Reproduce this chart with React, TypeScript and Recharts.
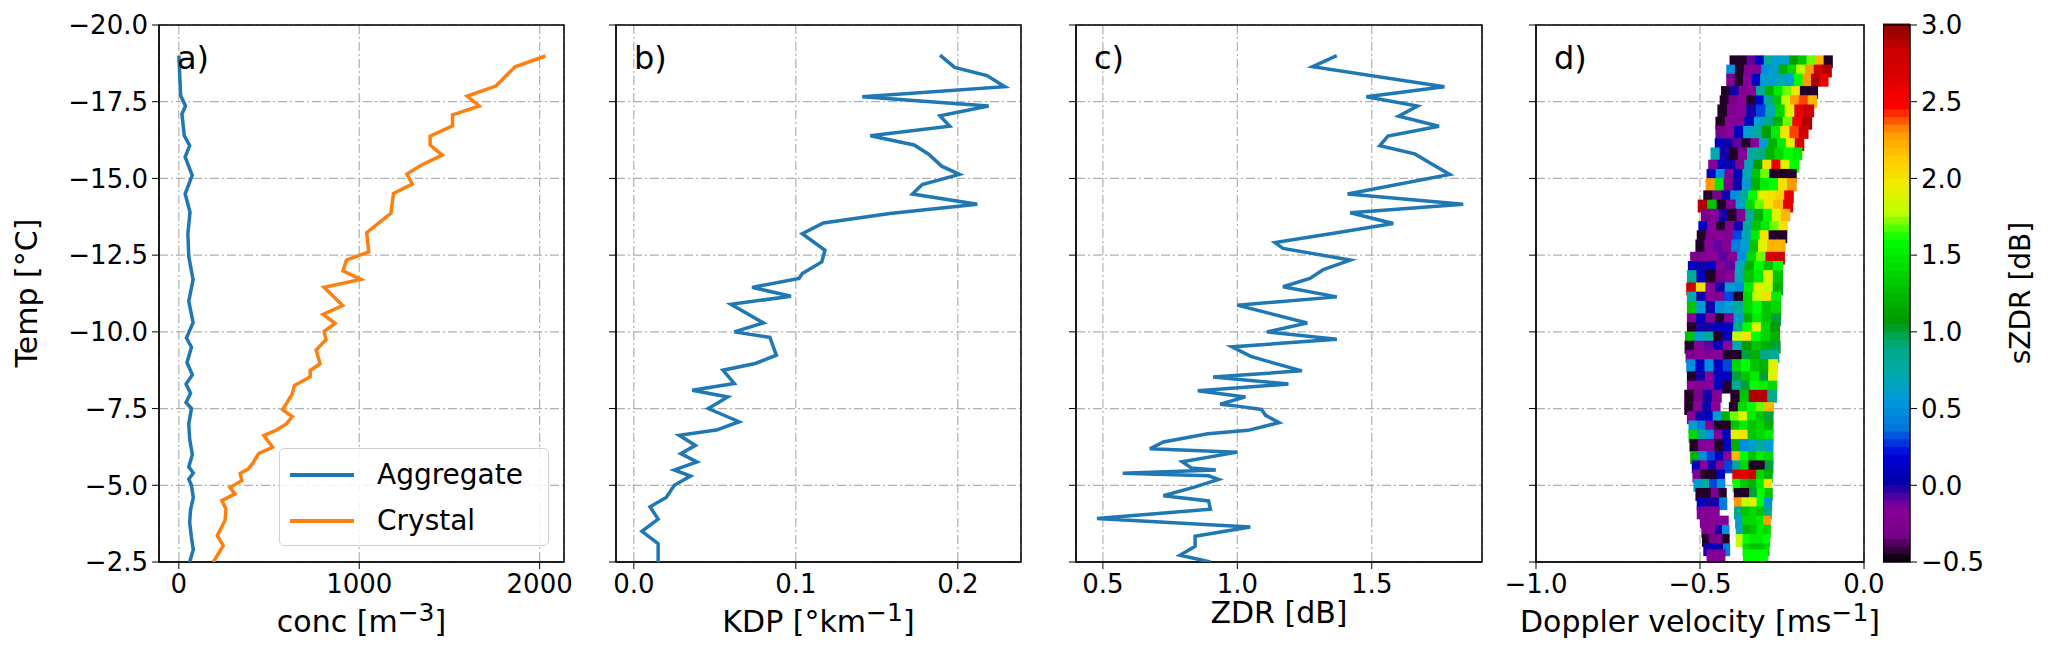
import React from "react";
import { ScatterChart, Scatter, XAxis, YAxis, CartesianGrid, ReferenceArea } from "recharts";

// [temperature, value] pairs
const aggregate = [
  [-19.0, 0], [-17.7, 10], [-17.36, 37], [-17.1, 17], [-16.4, 30], [-16.07, 60], [-15.7, 35],
  [-15.1, 74], [-14.5, 35], [-13.9, 62], [-13.2, 50], [-12.45, 55], [-11.7, 79], [-11.0, 55],
  [-10.3, 79], [-9.8, 42], [-9.5, 70], [-9.0, 45], [-8.6, 75], [-8.3, 40], [-8.0, 65], [-7.7, 40],
  [-7.5, 70], [-7.0, 55], [-6.5, 60], [-6.0, 75], [-5.6, 55], [-5.4, 80], [-5.2, 55], [-5.0, 70],
  [-4.6, 80], [-4.2, 65], [-3.8, 60], [-3.3, 70], [-2.9, 80], [-2.5, 60],
];
const crystal = [
  [-18.99, 2032], [-18.64, 1864], [-18.01, 1757], [-17.68, 1598], [-17.36, 1665], [-17.07, 1517],
  [-16.71, 1517], [-16.38, 1393], [-16.09, 1393], [-15.76, 1460], [-15.43, 1343], [-15.14, 1264],
  [-14.82, 1294], [-14.51, 1190], [-13.86, 1175], [-13.23, 1041], [-12.61, 1053], [-12.34, 929],
  [-11.99, 910], [-11.71, 1009], [-11.45, 805], [-10.86, 908], [-10.57, 800], [-10.28, 866],
  [-10.01, 805], [-9.74, 816], [-9.41, 761], [-8.96, 783], [-8.74, 728], [-8.54, 728], [-8.25, 640],
  [-7.98, 629], [-7.46, 575], [-7.24, 629], [-7.0, 596], [-6.8, 542], [-6.62, 471], [-6.24, 520],
  [-6.04, 443], [-5.72, 410], [-5.53, 384], [-5.39, 340], [-5.15, 349], [-4.93, 283], [-4.72, 311],
  [-4.5, 239], [-4.23, 261], [-3.87, 257], [-3.36, 213], [-3.03, 246], [-2.5, 191],
];
const kdp = [
  [-19.02, 0.189], [-18.62, 0.198], [-18.35, 0.218], [-17.99, 0.229], [-17.66, 0.141], [-17.36, 0.219],
  [-17.04, 0.189], [-16.7, 0.195], [-16.39, 0.146], [-16.09, 0.173], [-15.79, 0.182], [-15.4, 0.19],
  [-15.13, 0.201], [-14.8, 0.178], [-14.49, 0.172], [-14.16, 0.212], [-13.86, 0.158], [-13.55, 0.117],
  [-13.2, 0.104], [-12.66, 0.118], [-12.28, 0.116], [-11.9, 0.104], [-11.74, 0.102], [-11.45, 0.073],
  [-11.16, 0.097], [-10.9, 0.06], [-10.29, 0.08], [-10.0, 0.062], [-9.82, 0.084], [-9.24, 0.088],
  [-8.97, 0.075], [-8.75, 0.055], [-8.32, 0.062], [-8.1, 0.036], [-7.88, 0.058], [-7.5, 0.046],
  [-7.07, 0.065], [-6.8, 0.051], [-6.63, 0.028], [-6.3, 0.038], [-6.03, 0.029], [-5.76, 0.039],
  [-5.5, 0.025], [-5.3, 0.035], [-5.0, 0.025], [-4.6, 0.02], [-4.3, 0.01], [-3.9, 0.015],
  [-3.5, 0.005], [-3.1, 0.015], [-2.5, 0.015],
];
const zdr = [
  [-19.0, 1.37], [-18.64, 1.28], [-17.99, 1.77], [-17.66, 1.48], [-17.36, 1.67], [-17.03, 1.6],
  [-16.7, 1.75], [-16.38, 1.56], [-16.07, 1.53], [-15.8, 1.66], [-15.49, 1.72], [-15.13, 1.79],
  [-14.49, 1.41], [-14.16, 1.84], [-13.88, 1.42], [-13.53, 1.58], [-13.23, 1.37], [-12.91, 1.14],
  [-12.72, 1.17], [-12.34, 1.42], [-12.03, 1.32], [-11.74, 1.27], [-11.47, 1.17], [-11.14, 1.37],
  [-10.87, 1.0], [-10.29, 1.26], [-10.0, 1.11], [-9.76, 1.37], [-9.51, 0.98], [-9.2, 1.05],
  [-9.02, 1.12], [-8.73, 1.24], [-8.53, 0.91], [-8.3, 1.19], [-8.08, 0.853], [-7.88, 1.03],
  [-7.64, 0.936], [-7.58, 1.0], [-7.47, 1.09], [-7.28, 1.105], [-7.04, 1.155], [-6.79, 1.04],
  [-6.68, 0.89], [-6.41, 0.725], [-6.19, 0.675], [-6.08, 1.0], [-5.77, 0.795], [-5.56, 0.83],
  [-5.5, 0.92], [-5.39, 0.574], [-5.31, 0.893], [-5.19, 0.93], [-4.95, 0.843], [-4.66, 0.725],
  [-4.49, 0.893], [-4.22, 0.9], [-3.92, 0.478], [-3.64, 1.048], [-3.34, 0.843], [-3.01, 0.843],
  [-2.72, 0.787], [-2.5, 0.9],
];

// Doppler rows: [temperature, left velocity, right velocity]
const dopRows = [
  [-18.8, -0.41, -0.097], [-18.5, -0.42, -0.1], [-18.2, -0.42, -0.11], [-17.8, -0.436, -0.142],
  [-17.5, -0.44, -0.145], [-17.2, -0.447, -0.154], [-16.8, -0.453, -0.16], [-16.5, -0.453, -0.171],
  [-16.1, -0.455, -0.184], [-15.8, -0.468, -0.19], [-15.4, -0.475, -0.2], [-15.1, -0.48, -0.207],
  [-14.8, -0.483, -0.207], [-14.4, -0.49, -0.216], [-14.1, -0.507, -0.218], [-13.8, -0.497, -0.227],
  [-13.4, -0.505, -0.234], [-13.1, -0.51, -0.236], [-12.8, -0.514, -0.241], [-12.4, -0.53, -0.243],
  [-12.1, -0.537, -0.249], [-11.8, -0.54, -0.249], [-11.4, -0.542, -0.249], [-11.1, -0.54, -0.255],
  [-10.8, -0.54, -0.255], [-10.4, -0.54, -0.255], [-10.1, -0.54, -0.258], [-9.8, -0.546, -0.258],
  [-9.5, -0.547, -0.256], [-9.2, -0.544, -0.26], [-8.9, -0.542, -0.264], [-8.5, -0.54, -0.265],
  [-8.2, -0.54, -0.267], [-7.9, -0.548, -0.267], [-7.5, -0.548, -0.276], [-7.2, -0.54, -0.278],
  [-6.9, -0.535, -0.278], [-6.6, -0.535, -0.278], [-6.3, -0.532, -0.278], [-5.9, -0.53, -0.278],
  [-5.6, -0.525, -0.278], [-5.3, -0.523, -0.28], [-5.0, -0.52, -0.282], [-4.7, -0.514, -0.28],
  [-4.4, -0.51, -0.282], [-4.1, -0.51, -0.283], [-3.8, -0.5, -0.286], [-3.5, -0.496, -0.286],
  [-3.2, -0.494, -0.288], [-2.9, -0.49, -0.29], [-2.7, -0.48, -0.295],
];
// sZDR cells of each row, left to right (null = empty)
const dopSzdr: (number | null)[][] = [
  [-0.45, -0.45, -0.1, 0.1, 0.8, 0.6, 0.6, 1.1, 1.3, 1.7, 2.2, -0.45],
  [0.5, -0.45, -0.2, -0.2, 0.5, 0.6, 1.2, 1.4, 1.8, 2.3, 2.8, 2.9],
  [-0.2, -0.45, -0.15, 0.1, 0.6, 0.6, 0.7, 0.6, 1.6, 2.3, 2.9, 2.6],
  [-0.45, 0.0, -0.2, -0.15, 0.8, 1.2, 1.5, 1.7, 2.0, -0.45, -0.45],
  [-0.45, -0.3, -0.15, -0.45, 0.2, 0.8, 1.3, 1.8, 2.3, 2.4, 2.2],
  [-0.45, -0.2, -0.15, 0.0, 0.3, 0.7, 1.4, 1.9, 2.6, 2.8],
  [-0.45, -0.15, -0.2, 0.1, 0.6, 0.9, 1.2, 1.7, 2.5, 2.9],
  [-0.3, -0.15, 0.1, 0.6, 0.8, 1.1, 1.5, 2.0, 2.4, 2.8],
  [0.1, 0.0, -0.1, -0.45, -0.15, 0.6, 1.2, 1.5, 1.9, 2.7],
  [0.7, 0.0, -0.45, -0.2, 0.8, 0.9, 1.2, 1.4, 1.6, 1.5],
  [-0.15, 0.1, 0.0, -0.2, 0.7, 1.1, 2.0, 2.6, 1.9, 1.6],
  [0.1, 0.5, -0.2, 0.1, 0.7, 1.3, 1.7, -0.45, -0.45, -0.45],
  [2.3, 1.5, -0.2, 0.0, 0.6, 1.2, 1.5, 1.6, 2.0, 2.3],
  [-0.45, -0.3, 0.0, 0.5, 0.8, 1.6, 1.9, 2.0, 2.1, 2.6],
  [2.9, 1.3, -0.45, -0.2, 0.6, 1.4, 1.7, 2.0, 2.2, 2.6],
  [-0.3, -0.15, 0.0, -0.45, -0.2, 0.8, 1.2, 1.6, 1.9, 2.2],
  [0.1, -0.15, -0.45, -0.2, 0.0, 0.8, 1.3, 1.5, 1.7, 2.0],
  [-0.45, -0.2, -0.15, -0.2, 0.3, 0.7, 1.5, 2.0, -0.45, -0.45],
  [-0.45, -0.15, -0.1, -0.2, 0.4, 0.6, 1.3, 1.9, 2.2, 2.2],
  [-0.3, -0.2, -0.15, -0.1, -0.2, 0.5, 1.4, 1.7, 2.7, 2.8],
  [0.1, 0.0, 0.1, -0.2, -0.1, 0.7, 1.2, 1.6, 1.3, 1.6],
  [0.8, 0.1, -0.45, -0.3, -0.15, 0.7, 1.3, 1.5, 1.9, 1.3],
  [2.8, 2.0, -0.15, 0.0, 0.6, 0.5, 1.5, 1.9, 1.8, 1.2],
  [0.7, 0.0, -0.15, -0.2, 0.3, -0.45, 1.4, 1.8, 2.0, 1.5],
  [1.3, 0.6, 0.0, 0.5, 0.6, 0.8, 1.4, 1.6, 1.3, 1.4],
  [-0.15, 0.1, -0.2, -0.45, -0.15, 0.6, 1.2, 1.5, 1.3, 1.0],
  [-0.45, 0.0, 0.0, 0.1, 0.1, 0.9, 1.6, 1.9, 1.4, 1.1],
  [1.3, 0.6, 0.8, -0.45, 0.1, 1.8, 2.0, 1.6, 1.4, 1.2],
  [-0.45, -0.15, -0.1, 0.1, -0.15, 0.7, 1.1, 1.3, 1.2, 1.0],
  [-0.3, -0.15, -0.2, -0.15, -0.45, -0.45, 1.0, 1.2, 0.9, 0.8],
  [0.5, 0.1, 0.5, 0.1, 0.3, 1.4, 1.6, 1.3, 1.2, 1.9],
  [-0.45, 0.0, -0.15, 0.1, 0.1, 1.0, 1.3, 1.5, 1.0, 1.9],
  [-0.15, -0.2, -0.15, 0.1, -0.45, 0.8, 1.0, 1.6, 1.5, 1.4],
  [-0.45, -0.3, 0.0, -0.2, null, -0.45, 1.3, 2.9, 2.9, 0.9],
  [-0.45, -0.15, 0.0, -0.15, null, -0.45, 1.4, 1.6, 1.7, 2.2],
  [-0.15, 0.0, 0.1, 0.6, 1.2, 1.7, 1.9, 1.5, 1.3, 1.0],
  [0.6, 0.4, -0.15, -0.45, -0.45, 1.3, 1.5, 1.3, 1.4, 1.2],
  [1.4, 0.8, 0.5, -0.15, 0.1, 1.9, 2.0, 1.3, 1.4, 1.5],
  [-0.45, -0.2, -0.15, -0.45, 0.1, 1.2, 0.5, 0.6, 0.8, 0.6],
  [1.2, 0.5, 0.3, 0.1, -0.2, 2.2, 1.6, 1.3, 1.5, 1.4],
  [0.1, -0.15, 0.0, -0.2, 0.3, 0.8, 1.4, -0.45, -0.45, 1.0],
  [-0.2, -0.45, -0.45, 0.1, null, 2.7, 2.6, 2.8, 1.4, 1.2],
  [0.6, 0.8, 0.3, 0.5, null, 1.6, 1.3, 1.2, 1.5, 2.0],
  [-0.45, -0.45, -0.2, -0.45, null, -0.45, -0.45, 1.0, 1.6, 1.3],
  [0.1, 0.0, 0.0, 0.4, null, 2.3, 1.8, 1.9, 1.6, 0.5],
  [-0.2, -0.2, -0.15, null, null, 0.9, 1.3, 1.4, 1.3, 0.9],
  [-0.2, -0.15, -0.15, -0.2, null, 0.6, 1.4, 1.4, 1.5, 2.3],
  [-0.2, -0.15, 0.0, 0.5, null, 0.7, 1.2, 1.3, 1.5, 1.4],
  [-0.45, -0.3, -0.2, -0.45, null, 1.8, 1.6, 1.5, 1.5, 1.6],
  [0.0, 0.1, 0.0, 0.4, null, null, 1.4, 1.3, 1.3, 1.4],
  [-0.15, -0.2, -0.15, null, null, null, 1.6, 1.6, 1.6, 1.6],
];

const tempTicks = [-20, -17.5, -15, -12.5, -10, -7.5, -5, -2.5];
const concTicks = [0, 1000, 2000];
const kdpTicks = [0, 0.1, 0.2];
const zdrTicks = [0.5, 1.0, 1.5];
const velTicks = [-1, -0.5, 0];
const cbarTicks = [-0.5, 0, 0.5, 1, 1.5, 2, 2.5, 3];

// nipy_spectral-like colour stops
const stops = [
  [0, 0, 0, 0], [0.05, 0.467, 0, 0.533], [0.1, 0.533, 0, 0.6], [0.15, 0, 0, 0.667],
  [0.2, 0, 0, 0.867], [0.25, 0, 0.467, 0.867], [0.3, 0, 0.6, 0.867], [0.35, 0, 0.667, 0.667],
  [0.4, 0, 0.667, 0.533], [0.45, 0, 0.6, 0], [0.5, 0, 0.733, 0], [0.55, 0, 0.867, 0],
  [0.6, 0, 1, 0], [0.65, 0.733, 1, 0], [0.7, 0.933, 0.933, 0], [0.75, 1, 0.8, 0],
  [0.8, 1, 0.6, 0], [0.85, 1, 0, 0], [0.9, 0.867, 0, 0], [0.95, 0.8, 0, 0], [1, 0.55, 0, 0],
];
function cmap(v: number) {
  const f = Math.min(1, Math.max(0, (v + 0.5) / 3.5));
  let i = 0;
  while (i < stops.length - 2 && f > stops[i + 1][0]) i++;
  const a = stops[i], b = stops[i + 1];
  const w = (f - a[0]) / (b[0] - a[0]);
  const c = [1, 2, 3].map((k) => Math.round(255 * (a[k] + (b[k] - a[k]) * w)));
  return `rgb(${c[0]},${c[1]},${c[2]})`;
}

const FONT = "'DejaVu Sans', sans-serif";
const minus = (s: string) => s.replace("-", "\u2212");
const TOP = 25;
const YW = 100;
const RM = 40;

const toPts = (arr: number[][]) => arr.map(([t, v]) => ({ t, v }));

function Panel({ left, width, domain, ticks, fmt, showY, children }: any) {
  return (
    <div style={{ position: "absolute", left: left - YW, top: 0 }}>
      <ScatterChart width={YW + width + RM} height={667} margin={{ top: TOP, right: RM, bottom: 5, left: 0 }}>
        <CartesianGrid stroke="#b0b0b0" strokeDasharray="9 3 2 3" strokeWidth={1.2} />
        <XAxis type="number" dataKey="v" domain={domain} ticks={ticks} allowDataOverflow height={100}
          tickFormatter={fmt} tickSize={7} tickMargin={6} interval={0}
          stroke="#000" tick={{ fill: "#000", fontSize: 26, fontFamily: FONT }} />
        <YAxis type="number" dataKey="t" domain={[-20, -2.5]} ticks={tempTicks} reversed allowDataOverflow
          width={YW} tickSize={7} tickMargin={4} interval={0} stroke="#000"
          tickFormatter={(v: number) => (showY ? minus(v.toFixed(1)) : "")}
          tick={{ fill: "#000", fontSize: 26, fontFamily: FONT }} />
        {children}
        <ReferenceArea x1={domain[0]} x2={domain[1]} y1={-20} y2={-2.5} fill="none" stroke="#000" strokeWidth={1.5} ifOverflow="visible" />
      </ScatterChart>
    </div>
  );
}

const lineScatter = (data: any[], color: string, key: string) => (
  <Scatter key={key} data={data} fill={color} line={{ stroke: color, strokeWidth: 3.5 }}
    lineJointType="linear" shape={() => <g />} isAnimationActive={false} />
);

const txt: React.CSSProperties = { position: "absolute", fontFamily: FONT, color: "#000", whiteSpace: "nowrap" };

const panels = [
  { left: 159, width: 405, label: "a)", xl: <>conc [m<sup>−3</sup>]</> },
  { left: 616, width: 405, label: "b)", xl: <>KDP [°km<sup>−1</sup>]</> },
  { left: 1076, width: 406, label: "c)", xl: <>ZDR [dB]</> },
  { left: 1536, width: 328, label: "d)", xl: <>Doppler velocity [ms<sup>−1</sup>]</> },
];

export default function App() {
  const cells: any[] = [];
  dopRows.forEach(([t, l, r], i) => {
    const vals = dopSzdr[i];
    const w = (r - l) / vals.length;
    vals.forEach((s, j) => {
      if (s === null) return;
      cells.push(
        <ReferenceArea key={`c${i}-${j}`} x1={l + j * w} x2={l + (j + 1) * w + 0.002} y1={t - 0.21} y2={t + 0.21}
          fill={cmap(s)} fillOpacity={1} stroke="none" ifOverflow="visible" />
      );
    });
  });
  const slices: any[] = [];
  for (let k = 0; k < 70; k++) {
    const y1 = -0.5 + (3.5 * k) / 70;
    const y2 = -0.5 + (3.5 * (k + 1)) / 70;
    slices.push(<ReferenceArea key={`s${k}`} x1={0} x2={1} y1={y1} y2={y2 + 0.01} fill={cmap((y1 + y2) / 2)} fillOpacity={1} stroke="none" ifOverflow="visible" />);
  }

  return (
    <div style={{ position: "absolute", left: 0, top: 0, width: 2048, height: 667, background: "#fff", overflow: "hidden" }}>
      <Panel left={159} width={405} domain={[-110, 2135]} ticks={concTicks} fmt={(v: number) => String(v)} showY>
        {lineScatter(toPts(aggregate), "#1f77b4", "agg")}
        {lineScatter(toPts(crystal), "#ff7f0e", "cry")}
      </Panel>
      <Panel left={616} width={405} domain={[-0.011, 0.239]} ticks={kdpTicks} fmt={(v: number) => v.toFixed(1)}>
        {lineScatter(toPts(kdp), "#1f77b4", "kdp")}
      </Panel>
      <Panel left={1076} width={406} domain={[0.4, 1.91]} ticks={zdrTicks} fmt={(v: number) => v.toFixed(1)}>
        {lineScatter(toPts(zdr), "#1f77b4", "zdr")}
      </Panel>
      <Panel left={1536} width={328} domain={[-1, 0]} ticks={velTicks} fmt={(v: number) => minus(v.toFixed(1))}>
        <Scatter data={dopRows.map(([t, l]) => ({ t, v: l }))} shape={() => <g />} isAnimationActive={false} />
        {cells}
      </Panel>

      <div style={{ position: "absolute", left: 1883, top: 0 }}>
        <ScatterChart width={160} height={667} margin={{ top: TOP, right: 0, bottom: 105, left: 0 }}>
          <XAxis type="number" dataKey="v" domain={[0, 1]} hide />
          <YAxis type="number" dataKey="t" orientation="right" domain={[-0.5, 3]} ticks={cbarTicks} interval={0}
            width={133} tickSize={7} tickMargin={4} stroke="#000" axisLine={false}
            tickFormatter={(v: number) => minus(v.toFixed(1))}
            tick={{ fill: "#000", fontSize: 26, fontFamily: FONT }} />
          <Scatter data={[{ v: 0.5, t: 1 }]} shape={() => <g />} isAnimationActive={false} />
          {slices}
          <ReferenceArea x1={0} x2={1} y1={-0.5} y2={3} fill="none" stroke="#000" strokeWidth={1.5} ifOverflow="visible" />
        </ScatterChart>
      </div>

      {panels.map((p) => (
        <React.Fragment key={p.label}>
          <div style={{ ...txt, left: p.left + 18, top: 38, fontSize: 32, lineHeight: "40px" }}>{p.label}</div>
          <div style={{ ...txt, left: p.left + p.width / 2, top: 595, fontSize: 30, lineHeight: "36px", transform: "translateX(-50%)" }}>
            {p.xl}
          </div>
        </React.Fragment>
      ))}

      <div style={{ ...txt, left: 26, top: 293, fontSize: 30, transform: "translate(-50%,-50%) rotate(-90deg)" }}>Temp [°C]</div>
      <div style={{ ...txt, left: 2020, top: 293, fontSize: 28, transform: "translate(-50%,-50%) rotate(-90deg)" }}>sZDR [dB]</div>

      <div style={{ position: "absolute", left: 279, top: 448, width: 270, height: 98, border: "1.5px solid #d0d0d0", borderRadius: 5, background: "rgba(255,255,255,0.85)", boxSizing: "border-box" }}>
        {[["Aggregate", "#1f77b4"], ["Crystal", "#ff7f0e"]].map(([name, c], i) => (
          <div key={name} style={{ position: "absolute", left: 0, top: 8 + i * 46, height: 36, width: 260 }}>
            <div style={{ position: "absolute", left: 10, top: 16, width: 64, height: 4, background: c }} />
            <div style={{ ...txt, left: 97, top: 0, fontSize: 28, lineHeight: "36px" }}>{name}</div>
          </div>
        ))}
      </div>
    </div>
  );
}
